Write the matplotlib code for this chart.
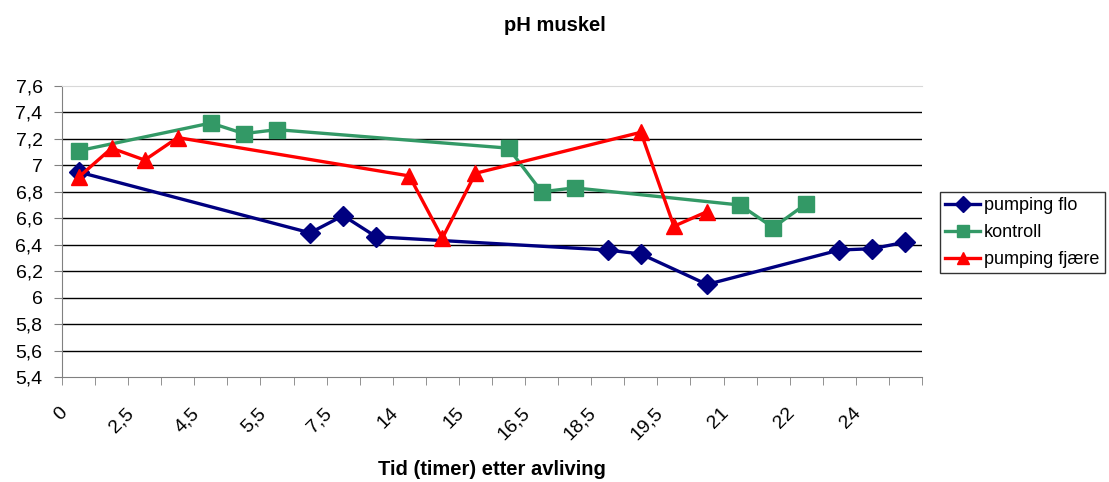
import numpy as np
import matplotlib
matplotlib.use("Agg")
import matplotlib.pyplot as plt
from matplotlib.transforms import ScaledTranslation

plt.rcParams['font.family'] = ['Liberation Sans', 'DejaVu Sans']

# categories on the x axis (Excel category axis, every other label shown)
categories = ['0', '1', '2,5', '3,5', '4,5', '5', '5,5', '6,5', '7,5', '13',
              '14', '14,5', '15', '16', '16,5', '17,5', '18,5', '19', '19,5',
              '20', '21', '21,5', '22', '23', '24', '25']

# measured pH per category index
pumping_flo_idx = [0, 7, 8, 9, 16, 17, 19, 23, 24, 25]
pumping_flo = [6.95, 6.49, 6.62, 6.46, 6.36, 6.33, 6.10, 6.36, 6.37, 6.42]

kontroll_idx = [0, 4, 5, 6, 13, 14, 15, 20, 21, 22]
kontroll = [7.11, 7.32, 7.24, 7.27, 7.13, 6.80, 6.83, 6.70, 6.53, 6.71]

fjaere_idx = [0, 1, 2, 3, 10, 11, 12, 17, 18, 19]
fjaere = [6.91, 7.13, 7.04, 7.21, 6.92, 6.45, 6.94, 7.25, 6.54, 6.65]

fig = plt.figure(figsize=(11.09, 4.82), dpi=100)
ax = fig.add_axes([0.0559, 0.2178, 0.7755, 0.6038])

ax.plot(pumping_flo_idx, pumping_flo, color='#000080', lw=2.4, marker='D',
        markersize=10.5, label='pumping flo', zorder=3)
ax.plot(kontroll_idx, kontroll, color='#339966', lw=2.4, marker='s',
        markersize=11, label='kontroll', zorder=3)
ax.plot(fjaere_idx, fjaere, color='#FF0000', lw=2.4, marker='^',
        markersize=11.5, label='pumping fjære', zorder=4)

ax.set_xlim(-0.5, len(categories) - 0.5)
ax.set_ylim(5.4, 7.6)
yt = np.round(np.arange(5.4, 7.61, 0.2), 1)
ax.set_yticks(yt)
ax.set_yticklabels([('%g' % v).replace('.', ',') for v in yt], fontsize=14)
for v in yt[1:-1]:
    ax.axhline(v, color='black', lw=1, zorder=1)

ax.set_xticks(np.arange(-0.5, len(categories), 1), minor=True)
ax.set_xticks(np.arange(0, len(categories), 2))
ax.set_xticklabels(categories[::2], rotation=45, ha='right', va='top',
                   rotation_mode='anchor', fontsize=14)
ax.tick_params(axis='x', which='major', length=0, pad=14)
ax.tick_params(axis='x', which='minor', length=6, color='#808080')
ax.tick_params(axis='y', length=6, color='#808080', pad=8)
shift = ScaledTranslation(-20 / 100, -8 / 100, fig.dpi_scale_trans)
for lbl in ax.get_xticklabels():
    lbl.set_transform(lbl.get_transform() + shift)

for s in ['top', 'right']:
    ax.spines[s].set_visible(False)
ax.spines['top'].set_visible(True)
ax.spines['top'].set_color('#d8d8d8')
for s in ['left', 'bottom']:
    ax.spines[s].set_color('#808080')

ax.set_xlabel('Tid (timer) etter avliving', fontsize=14.5, fontweight='bold')
ax.xaxis.set_label_coords(0.5, -0.285)
ax.xaxis.label.set_va('top')
fig.text(0.5, 0.947, 'pH muskel', ha='center', va='center', fontsize=14.5,
         fontweight='bold')

leg = fig.legend(loc='center left', bbox_to_anchor=(0.8476, 0.5176),
                 fontsize=13, frameon=True, fancybox=False, edgecolor='black',
                 handlelength=1.9, handletextpad=0.25, borderpad=0.3,
                 labelspacing=0.55, borderaxespad=0, markerscale=0.8)
leg.get_frame().set_linewidth(1)

fig.savefig('out.png', dpi=100)
